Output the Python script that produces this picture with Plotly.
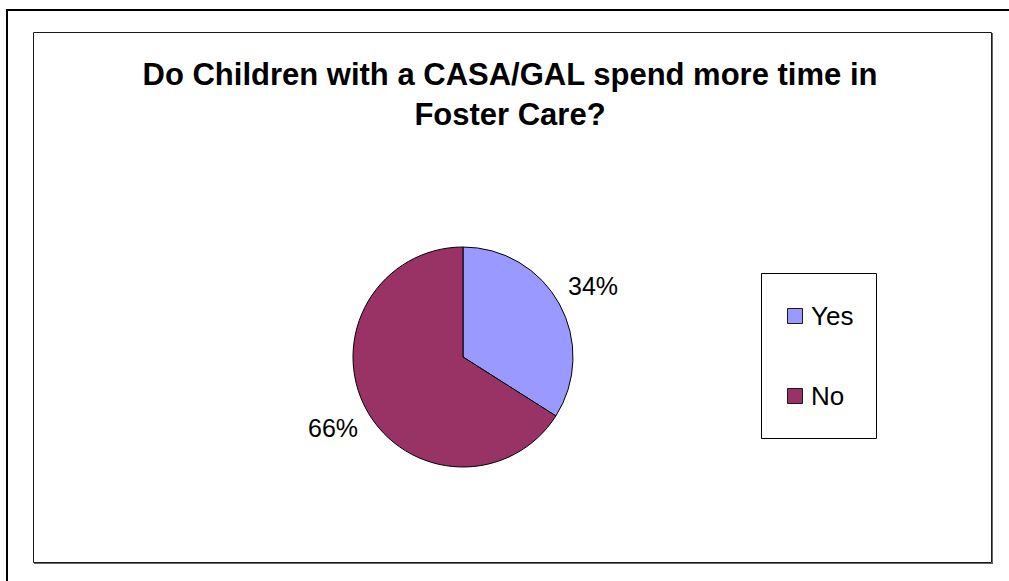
import math
import plotly.graph_objects as go

# Survey answers
TITLE = "Do Children with a CASA/GAL spend more time in<br>Foster Care?"
LABELS = ["Yes", "No"]
VALUES = [34, 66]
COLORS = ["#9999FF", "#993366"]

W, H = 1009, 581
FONT = "Liberation Sans, Arial, Helvetica, sans-serif"


def px(x):
    return x / W


def py(y):
    return 1 - y / H


# pie geometry in page pixels
CX, CY, R = 463, 357, 110
LABEL_R = 148

fig = go.Figure(
    go.Pie(
        labels=LABELS,
        values=VALUES,
        sort=False,
        direction="clockwise",
        rotation=0,
        marker=dict(colors=COLORS, line=dict(color="#000000", width=1)),
        textinfo="none",
        hoverinfo="label+percent",
        showlegend=False,
        domain=dict(x=[px(CX - R), px(CX + R)], y=[py(CY + R), py(CY - R)]),
    )
)

shapes = []
annotations = []

# percentage labels placed outside each slice at its mid angle
total = sum(VALUES)
cum = 0
for lab, val in zip(LABELS, VALUES):
    mid = (cum + val / 2) / total * 2 * math.pi
    cum += val
    lx = CX + LABEL_R * math.sin(mid)
    ly = CY - LABEL_R * math.cos(mid)
    annotations.append(dict(
        x=px(lx), y=py(ly), xref="paper", yref="paper",
        text=f"{round(100 * val / total)}%", showarrow=False,
        xanchor="center", yanchor="middle",
        font=dict(family=FONT, size=25, color="#000000"),
    ))

# outer frame: only its left and top edges fall inside the page
shapes.append(dict(type="line", xref="paper", yref="paper",
                   x0=px(7), x1=px(7), y0=0, y1=py(9),
                   line=dict(color="#000000", width=2)))
shapes.append(dict(type="line", xref="paper", yref="paper",
                   x0=px(6), x1=1, y0=py(10), y1=py(10),
                   line=dict(color="#000000", width=2)))

# chart area box with a soft shadow on right and bottom
shapes.append(dict(type="rect", xref="paper", yref="paper",
                   x0=px(33.5), x1=px(991.5), y0=py(562.5), y1=py(32.5),
                   line=dict(color="#1a1a1a", width=1), fillcolor="rgba(0,0,0,0)"))
shapes.append(dict(type="line", xref="paper", yref="paper",
                   x0=px(992.5), x1=px(992.5), y0=py(564), y1=py(33),
                   line=dict(color="#666666", width=1)))
shapes.append(dict(type="line", xref="paper", yref="paper",
                   x0=px(34), x1=px(993), y0=py(563.5), y1=py(563.5),
                   line=dict(color="#666666", width=1)))

# legend box
shapes.append(dict(type="rect", xref="paper", yref="paper",
                   x0=px(761.5), x1=px(876.5), y0=py(438.5), y1=py(273.5),
                   line=dict(color="#000000", width=1), fillcolor="#ffffff"))
for i, (lab, col) in enumerate(zip(LABELS, COLORS)):
    yc = 316 + 80 * i
    shapes.append(dict(type="rect", xref="paper", yref="paper",
                       x0=px(787.5), x1=px(802.5), y0=py(yc + 7.5), y1=py(yc - 7.5),
                       line=dict(color="#1a1a1a", width=1), fillcolor=col))
    annotations.append(dict(
        x=px(809), y=py(yc), xref="paper", yref="paper",
        text=lab, showarrow=False, xanchor="left", yanchor="middle",
        font=dict(family=FONT, size=26, color="#000000"),
    ))

fig.update_layout(
    width=W, height=H,
    margin=dict(l=0, r=0, t=0, b=0),
    paper_bgcolor="#ffffff",
    plot_bgcolor="#ffffff",
    title=dict(
        text=f"<b>{TITLE}</b>",
        x=px(510), xanchor="center",
        y=py(85), yanchor="top",
        font=dict(family=FONT, size=31, color="#000000"),
    ),
    shapes=shapes,
    annotations=annotations,
)

fig.write_html("out.html")
